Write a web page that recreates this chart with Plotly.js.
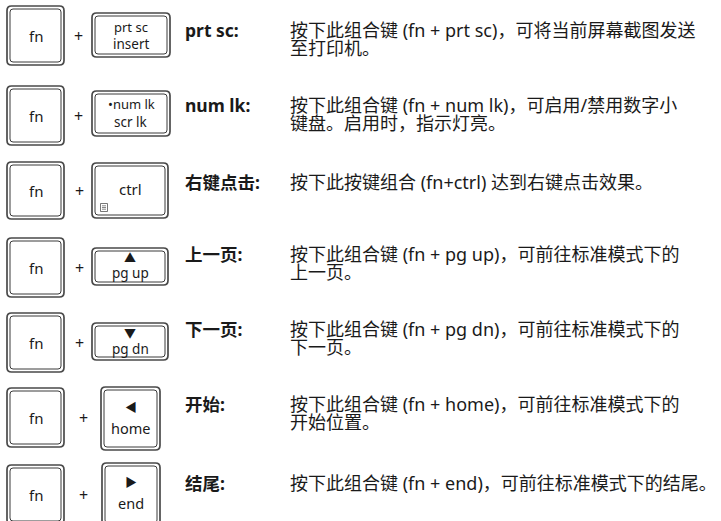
<!DOCTYPE html>
<html>
<head>
<meta charset="utf-8">
<script src="https://cdn.plot.ly/plotly-3.0.1.min.js"></script>
<style>html,body{margin:0;padding:0;background:#fff;}#chart{width:721px;height:521px;}</style>
</head>
<body>
<div id="chart"></div>
<script>
// ---- content ----
const fnLabels = ["fn", "fn", "fn", "fn", "fn", "fn", "fn"];
const keyTop = ["prt sc", "•num lk", "ctrl", "▲", "▼", "◀", "▶"];
const keyBottom = ["insert", "scr lk", "", "pg up", "pg dn", "home", "end"];
const titles = ["prt sc:", "num lk:", "右键点击:", "上一页:", "下一页:", "开始:", "结尾:"];
const descLine1 = [
  "按下此组合键 (fn + prt sc)，可将当前屏幕截图发送",
  "按下此组合键 (fn + num lk)，可启用/禁用数字小",
  "按下此按键组合 (fn+ctrl) 达到右键点击效果。",
  "按下此组合键 (fn + pg up)，可前往标准模式下的",
  "按下此组合键 (fn + pg dn)，可前往标准模式下的",
  "按下此组合键 (fn + home)，可前往标准模式下的",
  "按下此组合键 (fn + end)，可前往标准模式下的结尾。"
];
const descLine2 = ["至打印机。", "键盘。启用时，指示灯亮。", "", "上一页。", "下一页。", "开始位置。", ""];

// ---- geometry (layout only) ----
const fnX = [7, 64];
const fnY = [[6, 65], [86, 145], [162, 219], [238, 297], [313, 372], [388, 447], [465, 524]];
const keyBox = [[92, 170, 13, 57], [92, 170, 91, 136], [92, 168, 163, 218], [92, 168, 248, 285], [92, 168, 323, 360], [101, 160, 387, 450], [102, 160, 463, 526]];
const topY = [27, 104, 189, 258, 333, 407, 482];
const botY = [44, 122, 0, 273, 349, 428, 503];
const plusX = [78, 78, 79, 79, 79, 83, 83];
const textY = [30, 105, 182, 254, 329, 404, 483];
const lineGap = 18;

const FONT = "Noto Sans, Noto Sans CJK SC, sans-serif";
const ink = "#1a1a1a";

function rr(x0, y0, x1, y1, r) {
  return `M${x0 + r},${y0} L${x1 - r},${y0} Q${x1},${y0} ${x1},${y0 + r} L${x1},${y1 - r} Q${x1},${y1} ${x1 - r},${y1} L${x0 + r},${y1} Q${x0},${y1} ${x0},${y1 - r} L${x0},${y0 + r} Q${x0},${y0} ${x0 + r},${y0} Z`;
}
const shapes = [];
const annotations = [];
function key(x0, x1, y0, y1) {
  shapes.push({type: "path", xref: "x", yref: "y", path: rr(x0, y0, x1, y1, 4.5), line: {color: "#4a4a4a", width: 1.7}, fillcolor: "#ffffff"});
  shapes.push({type: "path", xref: "x", yref: "y", path: rr(x0 + 3, y0 + 3, x1 - 3, y1 - 3, 3), line: {color: "#3a3a3a", width: 1}, fillcolor: "rgba(0,0,0,0)"});
}
function txt(x, y, s, size, opts) {
  annotations.push(Object.assign({xref: "x", yref: "y", x: x, y: y, text: s, showarrow: false, xanchor: "center", yanchor: "middle",
    borderpad: 0, font: {family: FONT, size: size, color: ink}}, opts || {}));
}

for (let i = 0; i < fnLabels.length; i++) {
  key(fnX[0], fnX[1], fnY[i][0], fnY[i][1]);
  txt((fnX[0] + fnX[1]) / 2, (fnY[i][0] + fnY[i][1]) / 2, fnLabels[i], 15);
  txt(plusX[i], (fnY[i][0] + fnY[i][1]) / 2, "+", 16);
  const b = keyBox[i];
  key(b[0], b[1], b[2], b[3]);
  const cx = (b[0] + b[1]) / 2;
  const isArrow = ["▲", "▼", "◀", "▶"].indexOf(keyTop[i]) >= 0;
  txt(cx, topY[i], keyTop[i], isArrow ? 12 : (keyTop[i] === "ctrl" ? 15 : 13));
  if (keyBottom[i]) txt(cx, botY[i], keyBottom[i], i >= 5 ? 14.5 : 13.5);
  txt(184, textY[i], "<b>" + titles[i] + "</b>", 17.5, {xanchor: "left"});
  txt(289, textY[i], descLine1[i], 18, {xanchor: "left"});
  if (descLine2[i]) txt(289, textY[i] + lineGap, descLine2[i], 18, {xanchor: "left"});
}
// menu icon on ctrl key
shapes.push({type: "rect", xref: "x", yref: "y", x0: 100.5, x1: 107.5, y0: 203.5, y1: 211.5, line: {color: "#555", width: 0.8}});
[205.8, 207.5, 209.2].forEach(function (yy) {
  shapes.push({type: "line", xref: "x", yref: "y", x0: 102, x1: 106, y0: yy, y1: yy, line: {color: "#555", width: 0.7}});
});

Plotly.newPlot("chart", [], {
  width: 721, height: 521,
  margin: {l: 0, r: 0, t: 0, b: 0},
  paper_bgcolor: "#fff", plot_bgcolor: "#fff",
  xaxis: {range: [0, 721], visible: false, fixedrange: true},
  yaxis: {range: [521, 0], visible: false, fixedrange: true},
  shapes: shapes, annotations: annotations, showlegend: false
}, {staticPlot: true});
</script>
</body>
</html>
